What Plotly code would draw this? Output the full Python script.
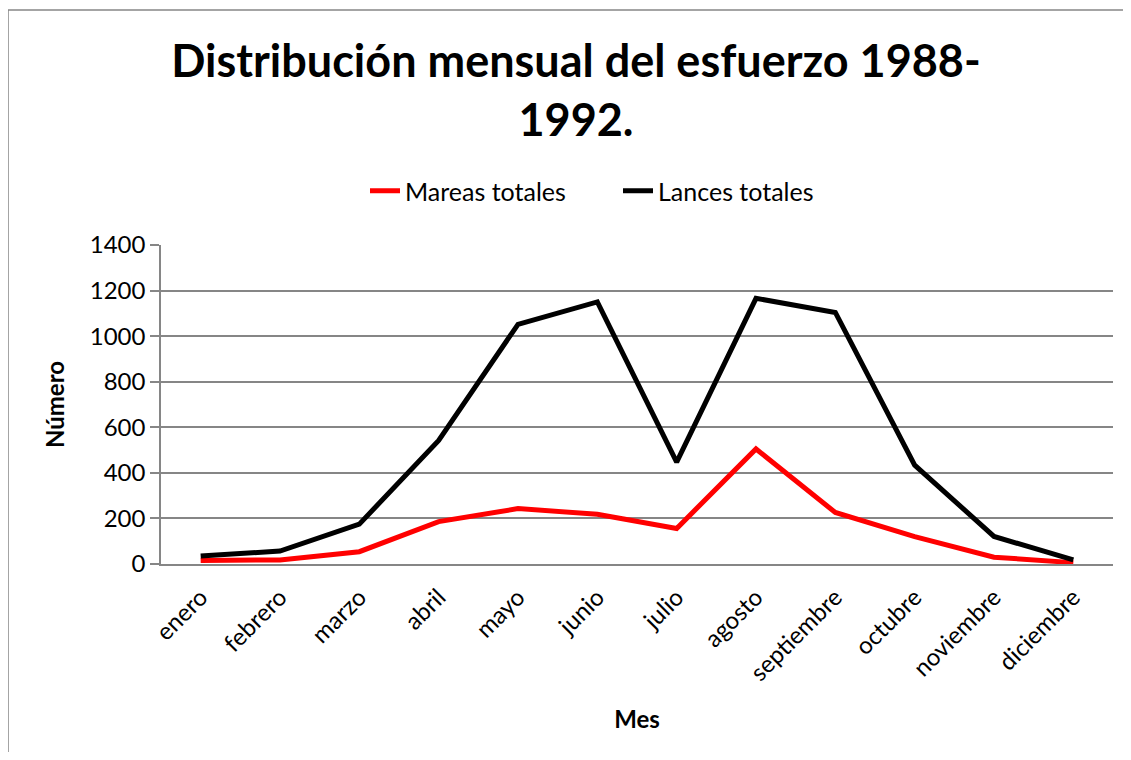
import plotly.graph_objects as go

meses = ["enero", "febrero", "marzo", "abril", "mayo", "junio", "julio",
         "agosto", "septiembre", "octubre", "noviembre", "diciembre"]
mareas_totales = [15, 18, 54, 186, 243, 218, 156, 505, 226, 120, 30, 6]
lances_totales = [35, 57, 175, 542, 1052, 1150, 447, 1166, 1104, 434, 121, 18]
y_ticks = [0, 200, 400, 600, 800, 1000, 1200, 1400]

FONT = "Lato"
GRID = "#868686"

fig = go.Figure()
fig.add_trace(go.Scatter(x=meses, y=mareas_totales, mode="lines", name="Mareas totales",
                         line=dict(color="#FF0000", width=5)))
fig.add_trace(go.Scatter(x=meses, y=lances_totales, mode="lines", name="Lances totales",
                         line=dict(color="#000000", width=5)))

# page body has an 8px margin on every side, so figure coordinates = screen - 8
OFF = 8
W, H = 1131 - 2 * OFF, 760 - 2 * OFF
L, T = 161 - OFF, 245 - OFF
R = W - (1113 - OFF)
B = H - (564 - OFF)
pw, ph = W - L - R, H - T - B

def px(x):
    return (x - OFF - L) / pw

def py(y):
    return (H - B - (y - OFF)) / ph

# chart-area border (only its top and left edges fall inside the picture)
fig.add_shape(type="line", xref="paper", yref="paper",
              x0=px(8), x1=px(1160), y0=py(10), y1=py(10),
              line=dict(color=GRID, width=1.5), layer="below")
fig.add_shape(type="line", xref="paper", yref="paper",
              x0=px(8), x1=px(8), y0=py(10), y1=py(790),
              line=dict(color=GRID, width=1.5), layer="below")

fig.update_layout(
    width=W, height=H,
    margin=dict(l=L, r=R, t=T, b=B, autoexpand=False),
    paper_bgcolor="white", plot_bgcolor="white",
    font=dict(family=FONT, color="black", size=24),
    title=dict(text="<b>Distribución mensual del esfuerzo 1988-<br>1992.</b>",
               x=(576 - OFF) / W, xanchor="center", xref="container",
               y=1 - 69 / H, yanchor="top", yref="container",
               font=dict(family=FONT, size=45, color="black")),
    showlegend=True,
    legend=dict(orientation="h", x=px(365), xanchor="left", y=py(191), yanchor="middle",
                font=dict(family=FONT, size=25), entrywidth=208, entrywidthmode="pixels",
                bgcolor="rgba(0,0,0,0)"),
    xaxis=dict(type="category", range=[-0.5, len(meses) - 0.5], tickangle=-45,
               showgrid=False, automargin=False,
               showline=True, linecolor=GRID, linewidth=1.5, ticks="",
               ticklabelstandoff=8,
               tickfont=dict(family=FONT, size=24),
               title=dict(text="<b>Mes</b>", font=dict(family=FONT, size=24), standoff=26)),
    yaxis=dict(range=[0, 1400], tickvals=y_ticks, showgrid=True, gridcolor=GRID, gridwidth=1.5,
               showline=True, linecolor=GRID, linewidth=1.5, zeroline=False, automargin=False,
               ticks="outside", ticklen=9, tickcolor=GRID, tickwidth=1.5,
               tickfont=dict(family=FONT, size=24),
               title=dict(text="<b>Número</b>", font=dict(family=FONT, size=24), standoff=18)),
)

fig.write_html("out.html")
